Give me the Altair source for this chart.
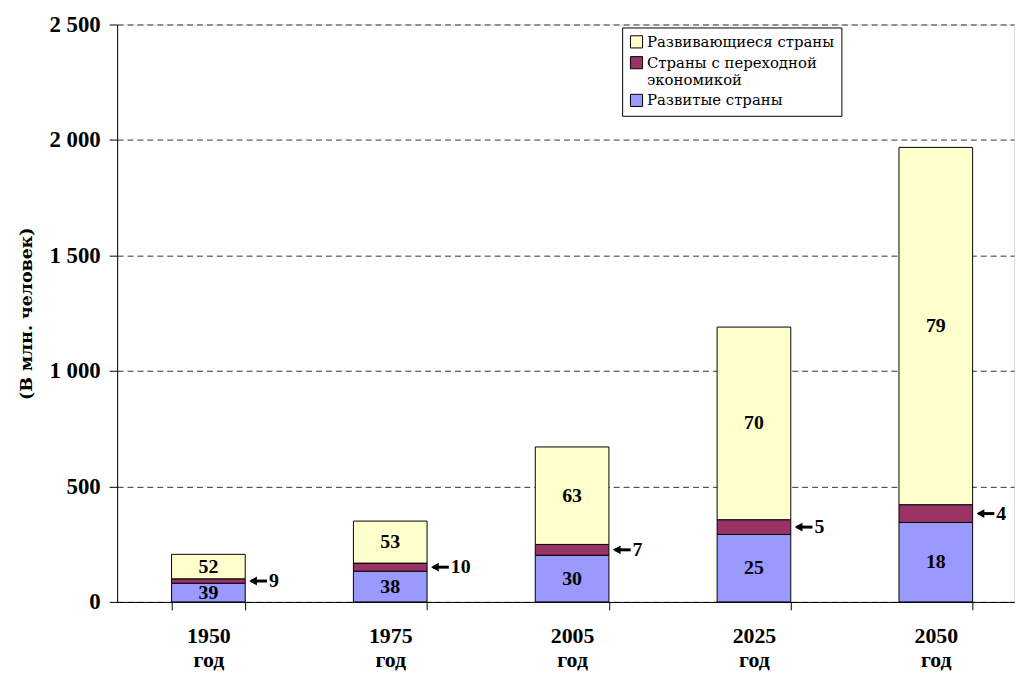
import altair as alt
import pandas as pd

years = ["1950", "1975", "2005", "2025", "2050"]
series = ["Развитые страны", "Страны с переходной экономикой", "Развивающиеся страны"]
developed = [81, 133, 202, 292, 344]
transition = [19, 35, 47, 64, 77]
developing = [106, 182, 422, 834, 1547]
developed_pct = [39, 38, 30, 25, 18]
transition_pct = [9, 10, 7, 5, 4]
developing_pct = [52, 53, 63, 70, 79]
y_ticks = [0, 500, 1000, 1500, 2000, 2500]

colors = ["#9999FF", "#993366", "#FFFFCC"]
FONT = "'Liberation Serif', 'DejaVu Serif', serif"
FONT_CYR = "'DejaVu Serif', serif"

rows = []
for i, yr in enumerate(years):
    base = 0
    for s, vals, pct, order in zip(series, [developed, transition, developing],
                                    [developed_pct, transition_pct, developing_pct], [0, 1, 2]):
        v = vals[i]
        rows.append({"year": yr, "series": s, "y0": base, "y1": base + v,
                     "mid": base + v / 2, "pct": str(pct[i]), "order": order})
        base += v
df = pd.DataFrame(rows)

xscale = alt.Scale(paddingInner=0.595, paddingOuter=0.2635, align=0.568)

x_enc = alt.X("year:N", sort=years, title=None, scale=xscale,
              axis=alt.Axis(labelAngle=0, labelFont=FONT, labelFontSize=22, labelFontWeight="bold",
                            labelColor="black", labelPadding=16, labelLineHeight=24,
                            labelExpr="datum.label ? [datum.label, 'год'] : ''", tickBand="extent",
                            tickSize=8, tickColor="black", domainColor="black", grid=False))

legend_expr = ("datum.label == 'Страны с переходной экономикой' ? ['Страны с переходной', 'экономикой'] : "
               "datum.label == 'Развивающиеся страны' ? datum.label + '\u2003\u2003' : datum.label")

bars = alt.Chart(df).mark_bar(stroke="black", strokeWidth=1).encode(
    x=x_enc,
    y=alt.Y("y0:Q", title="(В млн. человек)",
            scale=alt.Scale(domain=[0, 2500], nice=False),
            axis=alt.Axis(values=y_ticks, labelFont=FONT, labelFontSize=23, labelFontWeight="bold",
                          labelColor="black", labelPadding=9, tickSize=8, tickColor="black",
                          domainColor="black", grid=True, gridColor="#333333", gridDash=[6, 4],
                          gridWidth=1,
                          labelExpr="replace(format(datum.value, ','), ',', ' ')",
                          titleFont=FONT_CYR, titleFontSize=17.5, titleFontWeight="bold",
                          titleColor="black", titlePadding=14)),
    y2="y1:Q",
    color=alt.Color("series:N",
                    scale=alt.Scale(domain=series, range=colors),
                    sort=series[::-1],
                    legend=alt.Legend(title=None, orient="none", legendX=509, legendY=3,
                                      direction="vertical", values=series[::-1],
                                      labelFont=FONT_CYR, labelFontSize=15, labelColor="black",
                                      labelExpr=legend_expr,
                                      symbolType="square", symbolSize=150, symbolStrokeColor="black",
                                      symbolStrokeWidth=1, symbolOpacity=1, rowPadding=4,
                                      padding=7, strokeColor="black", fillColor="white",
                                      labelLimit=300, labelOffset=3)),
    order=alt.Order("order:Q"),
)

inner = alt.Chart(df).transform_filter("datum.order != 1").mark_text(
    font=FONT, fontSize=20, fontWeight="bold", color="black", baseline="middle"
).encode(x=alt.X("year:N", sort=years), y=alt.Y("mid:Q"), text="pct:N")

trans = alt.Chart(df).transform_filter("datum.order == 1")

shaft = trans.mark_rule(color="black", strokeWidth=3, xOffset=43, x2Offset=59).encode(
    x=alt.X("year:N", sort=years), x2=alt.X2("year:N"), y=alt.Y("mid:Q"))

head = trans.mark_point(shape="triangle-left", filled=True, color="black", opacity=1,
                        size=80, xOffset=45).encode(
    x=alt.X("year:N", sort=years), y=alt.Y("mid:Q"))

tlabel = trans.mark_text(font=FONT, fontSize=20, fontWeight="bold", color="black",
                         align="left", baseline="middle", dx=61).encode(
    x=alt.X("year:N", sort=years), y=alt.Y("mid:Q"), text="pct:N")

chart = alt.layer(bars, inner, shaft, head, tlabel).properties(
    width=904, height=582,
    padding={"left": 110, "top": 14, "right": 3, "bottom": 68},
    autosize=alt.AutoSizeParams(type="none"),
).configure_view(stroke=None).configure(background="white")

chart.save("out.html", embed_options={"renderer": "svg", "actions": False})
